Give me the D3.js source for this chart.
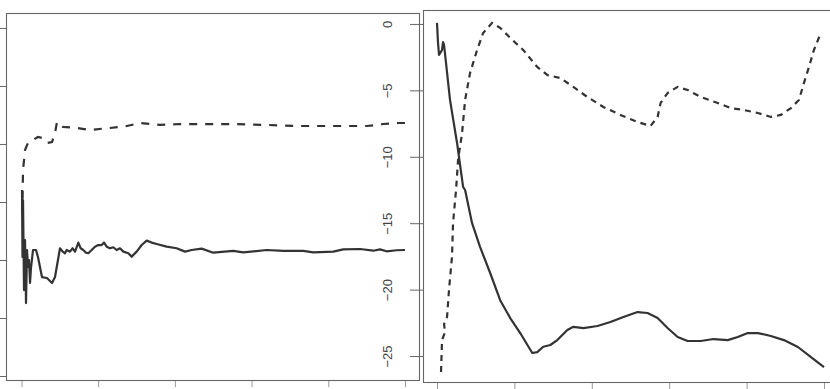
<!DOCTYPE html>
<html><head><meta charset="utf-8">
<script src="https://cdn.jsdelivr.net/npm/d3@7"></script>
<style>body{margin:0;background:#fff}svg{display:block}</style>
</head><body>
<svg id="c" width="830" height="389"></svg>
<script>
// Left panel: iteration t and estimate v
const leftSolidT = [7,13,20,33,46,59,72,85,98,111,124,150,189,215,267,332,398,437,502,537,567,589,632,667,698,741,771,806,841,871,915,958,1002,1045,1076,1111,1154,1197,1241,1284,1328,1393,1436,1502,1567,1632,1697,1762,1893,2023,2132,2219,2349,2501,2761,2892,3197,3414,3674,3804,4065,4196,4413,4587,4674,4761,4892,5000];
const leftSolidV = [-13.97,-19.74,-14.83,-22.59,-18.28,-23.71,-19.14,-20.6,-20.0,-21.98,-20.69,-19.14,-19.14,-19.74,-21.47,-21.55,-21.98,-21.47,-18.99,-19.28,-19.42,-19.14,-19.28,-18.99,-19.28,-18.5,-18.99,-19.14,-19.37,-19.42,-19.14,-18.85,-18.71,-18.71,-18.5,-18.85,-18.99,-18.9,-19.14,-18.99,-19.28,-19.42,-19.71,-19.28,-18.71,-18.33,-18.5,-18.62,-18.85,-18.99,-19.28,-19.14,-19.02,-19.37,-19.22,-19.34,-19.14,-19.22,-19.22,-19.34,-19.28,-19.08,-19.05,-19.2,-19.08,-19.25,-19.16,-19.14];
const leftDashT = [10,20,46,85,150,215,267,332,398,437,463,541,724,893,1154,1375,1545,1806,2067,2327,2757,3201,3631,4061,4504,4635,4713,4909,5000];
const leftDashV = [-16.1,-12.24,-10.52,-9.91,-9.66,-9.4,-9.48,-9.91,-9.83,-9.05,-8.1,-8.53,-8.62,-8.79,-8.62,-8.45,-8.19,-8.36,-8.28,-8.28,-8.28,-8.36,-8.45,-8.45,-8.45,-8.36,-8.28,-8.19,-8.19];
// Right panel
const rightSolidT = [0,13,26,65,78,91,168,259,337,363,453,557,687,816,946,1075,1231,1295,1373,1464,1554,1684,1762,1891,2073,2241,2409,2591,2720,2850,2979,3109,3238,3407,3575,3756,3886,4016,4145,4313,4482,4663,4832,5000];
const rightSolidV = [0.08,-1.43,-2.33,-1.96,-1.36,-1.58,-5.72,-8.96,-12.27,-12.5,-15.0,-16.8,-18.75,-20.8,-22.14,-23.27,-24.77,-24.7,-24.3,-24.17,-23.8,-23.04,-22.8,-22.9,-22.74,-22.44,-22.06,-21.69,-21.76,-22.14,-22.89,-23.57,-23.87,-23.87,-23.72,-23.8,-23.57,-23.27,-23.27,-23.49,-23.8,-24.32,-25.08,-25.83];
const rightDashT = [52,65,104,91,130,155,194,207,246,272,324,363,427,518,596,712,816,946,1114,1295,1425,1593,1762,1943,2150,2370,2591,2759,2850,2889,2979,3109,3238,3407,3627,3795,3964,4145,4313,4443,4573,4676,4741,4806,4870,4948];
const rightDashV = [-26.2,-23.8,-23.2,-22.6,-22.06,-20.0,-17.5,-15.0,-12.5,-10.24,-8.2,-5.72,-3.69,-1.96,-0.68,0.08,-0.3,-1.05,-1.96,-3.24,-3.84,-4.07,-4.74,-5.5,-6.25,-6.85,-7.38,-7.68,-7.0,-5.95,-5.2,-4.74,-4.97,-5.5,-5.95,-6.33,-6.48,-6.7,-7.0,-6.85,-6.33,-5.72,-4.44,-3.24,-1.96,-0.83];
const xTicks = [0,1000,2000,3000,4000,5000];
const yTicks = [0,-5,-10,-15,-20,-25];
const leftYTicks = [0,-5,-10,-15,-20,-25,-30];

const svg = d3.select("#c");
const ink = "#333", boxc = "#666";

function panel(o){
  const x = d3.scaleLinear().domain(o.xd).range([o.x0,o.x1]);
  const y = d3.scaleLinear().domain(o.yd).range([o.y1,o.y0]);
  const g = svg.append("g");
  const line = d3.line().x((d)=>x(d[0])).y((d)=>y(d[1]));
  const clipId = "clip"+o.id;
  g.append("clipPath").attr("id",clipId).append("rect")
    .attr("x",o.x0).attr("y",o.y0).attr("width",o.x1-o.x0).attr("height",o.y1-o.y0);
  g.append("path").datum(d3.zip(o.st,o.sv)).attr("d",line).attr("clip-path",`url(#${clipId})`)
    .attr("fill","none").attr("stroke",ink).attr("stroke-width",2.2).attr("stroke-linejoin","round");
  g.append("path").datum(d3.zip(o.dt,o.dv)).attr("d",line).attr("clip-path",`url(#${clipId})`)
    .attr("fill","none").attr("stroke",ink).attr("stroke-width",2.2).attr("stroke-dasharray",o.dash);
  g.append("rect").attr("x",o.x0+0.5).attr("y",o.y0+0.5).attr("width",o.x1-o.x0-1).attr("height",o.y1-o.y0-1)
    .attr("fill","none").attr("stroke",boxc).attr("stroke-width",1.1);
  const bx = g.append("g").attr("transform",`translate(0,${o.y1})`)
    .call(d3.axisBottom(x).tickValues(xTicks).tickSize(6).tickFormat(""));
  bx.select(".domain").remove();
  bx.selectAll("line").attr("stroke","#999");
  return {x,y,g};
}

const L = panel({id:"L",x0:6,x1:420,y0:13,y1:381,xd:[-202,5196],yd:[-30.43,1.29],
  st:leftSolidT,sv:leftSolidV,dt:leftDashT,dv:leftDashV,dash:"8,8"});
const R = panel({id:"R",x0:423,x1:838,y0:10,y1:383,xd:[-181,5181],yd:[-27.03,1.05],
  st:rightSolidT,sv:rightSolidV,dt:rightDashT,dv:rightDashV,dash:"6,5"});

const la = svg.append("g").attr("transform","translate(6,0)")
  .call(d3.axisLeft(L.y).tickValues(leftYTicks).tickSize(6).tickFormat(""));
la.select(".domain").remove();
la.selectAll("line").attr("stroke",boxc);

const ra = svg.append("g").attr("transform","translate(423,0)")
  .call(d3.axisLeft(R.y).tickValues(yTicks).tickSize(13).tickPadding(0).tickFormat(d3.format("d")));
ra.select(".domain").remove();
ra.selectAll("line").attr("stroke",boxc);
ra.selectAll("text").attr("fill","#444").attr("font-family","Liberation Sans, Arial, sans-serif")
  .attr("font-size",13).attr("text-anchor","middle").attr("x",null).attr("y",null)
  .attr("transform","translate(-36,0) rotate(-90)").attr("dy","0.35em");
</script>
</body></html>
